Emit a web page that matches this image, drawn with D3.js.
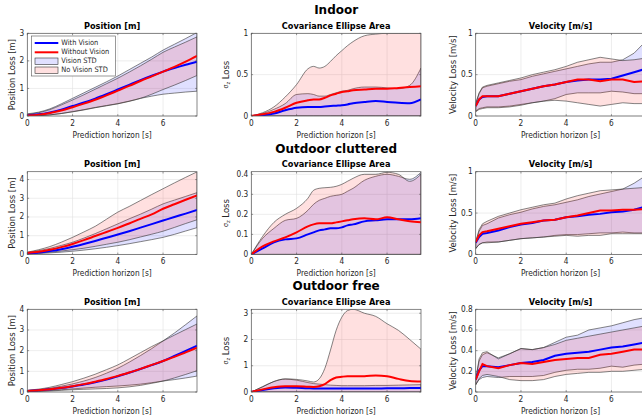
<!DOCTYPE html>
<html><head><meta charset="utf-8">
<script src="https://cdn.jsdelivr.net/npm/d3@7"></script>
<style>body{margin:0;background:#fff;} svg{display:block;font-family:"DejaVu Sans Condensed","DejaVu Sans",sans-serif;font-stretch:condensed;} .ttl{font-family:"DejaVu Sans",sans-serif;font-stretch:normal;font-weight:bold;}</style>
</head><body><svg id="c" width="642" height="420"></svg>
<script>
// ---------- DATA ----------
const rowTitles = ["Indoor", "Outdoor cluttered", "Outdoor free"];
const colTitles = ["Position [m]", "Covariance Ellipse Area", "Velocity [m/s]"];
const yLabels = ["Position Loss [m]", "SIGMA", "Velocity Loss [m/s]"];
const xLabel = "Prediction horizon [s]";
const xTicks = [0, 2, 4, 6];
const legendLabels = ["With Vision", "Without Vision", "Vision STD", "No Vision STD"];

const xPos = [0,0.5,1,1.5,2,2.5,3,3.5,4,4.5,5,5.5,6,6.5,7,7.5];
const xCov = [0,0.5,1,1.5,2,2.5,2.75,3,3.25,3.5,3.75,4,4.25,4.5,5,5.5,6,6.5,7,7.5];
const xVel = [0,0.15,0.3,0.5,1,1.5,2,2.5,3,3.5,4,4.5,5,5.5,6,6.5,7,7.5];

// Indoor - Position
const inPosBlue   = [0.03,0.06,0.13,0.23,0.36,0.49,0.63,0.79,0.96,1.13,1.30,1.46,1.61,1.74,1.86,1.97];
const inPosRed    = [0.02,0.05,0.11,0.20,0.32,0.45,0.59,0.75,0.92,1.09,1.27,1.44,1.61,1.78,1.97,2.18];
const inPosBlueHi = [0.08,0.14,0.26,0.44,0.64,0.84,1.04,1.24,1.45,1.68,1.91,2.14,2.39,2.60,2.81,3.03];
const inPosRedHi  = [0.06,0.12,0.23,0.40,0.58,0.77,0.97,1.17,1.37,1.59,1.82,2.06,2.31,2.50,2.68,2.87];
const inPosBlueLo = [0.00,0.01,0.04,0.09,0.16,0.23,0.31,0.38,0.45,0.54,0.64,0.72,0.79,0.83,0.87,0.90];
const inPosRedLo  = [0.00,0.01,0.04,0.09,0.15,0.22,0.30,0.37,0.44,0.53,0.64,0.79,0.96,1.12,1.29,1.47];

// Indoor - Covariance
const inCovBlue   = [0,0.01,0.03,0.07,0.10,0.11,0.11,0.11,0.115,0.12,0.125,0.13,0.14,0.155,0.17,0.18,0.17,0.16,0.155,0.20];
const inCovRed    = [0,0.02,0.05,0.10,0.16,0.19,0.20,0.20,0.22,0.25,0.27,0.29,0.30,0.31,0.32,0.33,0.33,0.34,0.35,0.36];
const inCovBlueHi = [0,0.03,0.08,0.15,0.26,0.27,0.26,0.24,0.24,0.26,0.28,0.30,0.31,0.33,0.35,0.35,0.34,0.33,0.37,0.58];
const inCovRedHi  = [0,0.04,0.11,0.23,0.38,0.57,0.60,0.58,0.60,0.66,0.73,0.79,0.85,0.90,0.97,0.99,1.00,1.00,1.00,1.00];
const inCovBlueLo = [0,0,0,0,0,0,0,0,0,0,0,0,0,0,0,0,0,0,0,0];
const inCovRedLo  = [0,0,0,0,0,0,0,0,0,0,0,0,0,0,0,0,0,0,0,0];

// Indoor - Velocity
const inVelBlue   = [0.12,0.20,0.23,0.24,0.24,0.27,0.30,0.33,0.36,0.38,0.41,0.43,0.44,0.44,0.45,0.49,0.53,0.57];
const inVelRed    = [0.12,0.20,0.24,0.24,0.24,0.27,0.30,0.33,0.36,0.38,0.41,0.44,0.44,0.42,0.44,0.44,0.41,0.42];
const inVelBlueHi = [0.15,0.27,0.34,0.36,0.39,0.42,0.44,0.48,0.51,0.54,0.57,0.60,0.63,0.65,0.65,0.68,0.76,0.90];
const inVelRedHi  = [0.15,0.28,0.35,0.37,0.40,0.43,0.46,0.50,0.53,0.56,0.60,0.65,0.68,0.71,0.69,0.67,0.68,0.70];
const inVelBlueLo = [0.06,0.09,0.10,0.11,0.11,0.12,0.14,0.16,0.18,0.21,0.26,0.28,0.28,0.28,0.30,0.29,0.27,0.27];
const inVelRedLo  = [0.05,0.08,0.09,0.10,0.10,0.11,0.13,0.16,0.18,0.19,0.18,0.16,0.14,0.12,0.14,0.16,0.15,0.15];

// Outdoor cluttered - Position
const ocPosBlue   = [0.05,0.10,0.18,0.28,0.41,0.56,0.72,0.89,1.06,1.24,1.43,1.62,1.81,2.00,2.18,2.37];
const ocPosRed    = [0.08,0.14,0.25,0.39,0.56,0.76,0.98,1.20,1.42,1.65,1.90,2.14,2.44,2.68,2.92,3.15];
const ocPosBlueHi = [0.10,0.20,0.32,0.48,0.65,0.87,1.11,1.37,1.63,1.90,2.15,2.42,2.70,2.90,3.10,3.30];
const ocPosRedHi  = [0.12,0.25,0.42,0.65,0.91,1.20,1.50,1.88,2.26,2.56,2.88,3.20,3.51,3.82,4.12,4.41];
const ocPosBlueLo = [0.02,0.05,0.08,0.12,0.17,0.23,0.30,0.38,0.47,0.57,0.68,0.79,0.91,1.07,1.25,1.43];
const ocPosRedLo  = [0.03,0.07,0.12,0.18,0.25,0.33,0.43,0.54,0.65,0.78,0.93,1.08,1.24,1.44,1.65,1.85];

// Outdoor cluttered - Covariance
const ocCovBlue   = [0,0.03,0.06,0.075,0.08,0.10,0.11,0.12,0.125,0.13,0.13,0.135,0.145,0.15,0.165,0.17,0.175,0.175,0.175,0.18];
const ocCovRed    = [0,0.04,0.065,0.085,0.11,0.14,0.15,0.155,0.155,0.155,0.16,0.165,0.17,0.175,0.18,0.175,0.185,0.175,0.165,0.16];
const ocCovBlueHi = [0,0.08,0.13,0.17,0.18,0.22,0.25,0.27,0.28,0.29,0.295,0.30,0.315,0.33,0.37,0.39,0.40,0.39,0.375,0.41];
const ocCovRedHi  = [0,0.09,0.16,0.20,0.23,0.28,0.32,0.33,0.333,0.335,0.34,0.35,0.365,0.38,0.40,0.40,0.41,0.40,0.365,0.40];
const ocCovBlueLo = [0,0,0,0,0,0,0,0,0,0,0,0,0,0,0,0,0,0,0,0];
const ocCovRedLo  = [0,0,0,0,0,0,0,0,0,0,0,0,0,0,0,0,0,0,0,0];

// Outdoor cluttered - Velocity
const ocVelBlue   = [0.14,0.21,0.25,0.26,0.29,0.33,0.36,0.38,0.41,0.42,0.45,0.46,0.48,0.49,0.51,0.52,0.54,0.58];
const ocVelRed    = [0.15,0.23,0.27,0.28,0.31,0.34,0.37,0.39,0.41,0.42,0.45,0.47,0.50,0.53,0.53,0.54,0.54,0.55];
const ocVelBlueHi = [0.15,0.28,0.35,0.37,0.44,0.48,0.51,0.55,0.58,0.60,0.63,0.66,0.70,0.73,0.76,0.79,0.86,0.95];
const ocVelRedHi  = [0.15,0.30,0.37,0.40,0.46,0.50,0.54,0.57,0.60,0.62,0.67,0.71,0.74,0.77,0.78,0.79,0.80,0.81];
const ocVelBlueLo = [0.07,0.12,0.14,0.15,0.15,0.17,0.19,0.20,0.21,0.23,0.24,0.24,0.25,0.26,0.26,0.27,0.26,0.26];
const ocVelRedLo  = [0.07,0.12,0.14,0.14,0.15,0.17,0.19,0.20,0.21,0.22,0.23,0.22,0.23,0.23,0.25,0.25,0.25,0.25];

// Outdoor free - Position
const ofPosBlue   = [0.05,0.08,0.13,0.19,0.27,0.36,0.47,0.60,0.76,0.93,1.11,1.30,1.50,1.74,1.99,2.24];
const ofPosRed    = [0.05,0.08,0.13,0.20,0.28,0.38,0.50,0.63,0.78,0.94,1.12,1.31,1.50,1.70,1.92,2.14];
const ofPosBlueHi = [0.07,0.11,0.18,0.28,0.39,0.53,0.70,0.91,1.15,1.44,1.76,2.10,2.47,2.85,3.26,3.68];
const ofPosRedHi  = [0.08,0.14,0.23,0.36,0.50,0.67,0.86,1.08,1.31,1.60,1.90,2.20,2.47,2.75,3.02,3.29];
const ofPosBlueLo = [0.02,0.04,0.07,0.11,0.15,0.19,0.23,0.26,0.29,0.33,0.38,0.45,0.53,0.60,0.68,0.77];
const ofPosRedLo  = [0.02,0.03,0.05,0.08,0.11,0.13,0.15,0.17,0.20,0.25,0.32,0.42,0.53,0.68,0.85,1.03];

// Outdoor free - Covariance
const ofCovBlue   = [0,0.08,0.14,0.17,0.16,0.14,0.135,0.13,0.13,0.13,0.13,0.13,0.13,0.13,0.13,0.13,0.14,0.14,0.15,0.15];
const ofCovRed    = [0,0.10,0.18,0.22,0.22,0.20,0.19,0.22,0.30,0.45,0.55,0.58,0.60,0.60,0.60,0.63,0.60,0.50,0.42,0.40];
const ofCovBlueHi = [0,0.20,0.40,0.49,0.45,0.36,0.32,0.30,0.28,0.26,0.25,0.24,0.24,0.24,0.24,0.25,0.25,0.26,0.27,0.28];
const ofCovRedHi  = [0,0.20,0.40,0.50,0.48,0.42,0.38,0.50,0.90,1.60,2.35,2.85,3.10,3.15,3.00,2.88,2.60,2.35,2.00,1.63];
const ofCovBlueLo = [0,0,0,0,0,0,0,0,0,0,0,0,0,0,0,0,0,0,0,0];
const ofCovRedLo  = [0,0,0,0,0,0,0,0,0,0,0,0,0,0,0,0,0,0,0,0];

// Outdoor free - Velocity
const ofVelBlue   = [0.12,0.21,0.25,0.25,0.24,0.26,0.28,0.29,0.31,0.35,0.37,0.38,0.39,0.41,0.43,0.44,0.46,0.48];
const ofVelRed    = [0.12,0.20,0.27,0.25,0.23,0.26,0.28,0.27,0.29,0.31,0.32,0.33,0.33,0.36,0.37,0.39,0.41,0.41];
const ofVelBlueHi = [0.12,0.30,0.36,0.38,0.33,0.37,0.42,0.41,0.43,0.48,0.53,0.55,0.60,0.62,0.64,0.67,0.70,0.72];
const ofVelRedHi  = [0.12,0.32,0.38,0.39,0.32,0.37,0.42,0.41,0.43,0.46,0.50,0.52,0.54,0.56,0.58,0.60,0.62,0.64];
const ofVelBlueLo = [0.07,0.12,0.14,0.15,0.14,0.15,0.15,0.15,0.16,0.19,0.21,0.22,0.22,0.23,0.25,0.24,0.26,0.27];
const ofVelRedLo  = [0.07,0.13,0.16,0.17,0.15,0.12,0.11,0.11,0.12,0.15,0.17,0.18,0.19,0.19,0.20,0.20,0.21,0.22];

// y-axis domains and ticks per [row][col]
const yMaxes = [[3, 1, 1], [4.42, 0.413, 1], [4, 3.15, 0.8]];
const yTickVals = [
  [[0,1,2,3], [0,0.5,1], [0,0.5,1]],
  [[0,1,2,3,4], [0,0.1,0.2,0.3,0.4], [0,0.5,1]],
  [[0,1,2,3,4], [0,1,2,3], [0,0.2,0.4,0.6,0.8]]
];

// ---------- LAYOUT ----------
const colLeft = [27.3, 251.3, 475.7];
const plotW = 169.7;
const rowTop = [33.3, 171.7, 309.3];
const plotH = 82.7;

const series = [
  [[xPos, inPosBlue, inPosRed, inPosBlueLo, inPosBlueHi, inPosRedLo, inPosRedHi, "smooth"],
   [xCov, inCovBlue, inCovRed, inCovBlueLo, inCovBlueHi, inCovRedLo, inCovRedHi, "smooth"],
   [xVel, inVelBlue, inVelRed, inVelBlueLo, inVelBlueHi, inVelRedLo, inVelRedHi, "linear"]],
  [[xPos, ocPosBlue, ocPosRed, ocPosBlueLo, ocPosBlueHi, ocPosRedLo, ocPosRedHi, "smooth"],
   [xCov, ocCovBlue, ocCovRed, ocCovBlueLo, ocCovBlueHi, ocCovRedLo, ocCovRedHi, "smooth"],
   [xVel, ocVelBlue, ocVelRed, ocVelBlueLo, ocVelBlueHi, ocVelRedLo, ocVelRedHi, "linear"]],
  [[xPos, ofPosBlue, ofPosRed, ofPosBlueLo, ofPosBlueHi, ofPosRedLo, ofPosRedHi, "smooth"],
   [xCov, ofCovBlue, ofCovRed, ofCovBlueLo, ofCovBlueHi, ofCovRedLo, ofCovRedHi, "smooth"],
   [xVel, ofVelBlue, ofVelRed, ofVelBlueLo, ofVelBlueHi, ofVelRedLo, ofVelRedHi, "linear"]]
];

const svg = d3.select("#c");
const defs = svg.append("defs");
const txtCol = "#262626";
const blueFill = "rgba(0,0,255,0.12)";
const redFill = "rgba(255,0,0,0.12)";

for (let r = 0; r < 3; r++) {
  svg.append("text").attr("class", "ttl").attr("x", colLeft[1] + plotW / 2).attr("y", rowTop[r] - 22.5)
    .attr("text-anchor", "middle").attr("dominant-baseline", "middle")
    .attr("font-size", 12).attr("fill", "#000").text(rowTitles[r]);

  for (let c = 0; c < 3; c++) {
    const [xs, mB, mR, bLo, bHi, rLo, rHi, kind] = series[r][c];
    const x0 = colLeft[c], y0 = rowTop[r];
    const x = d3.scaleLinear().domain([0, 7.5]).range([x0, x0 + plotW]);
    const y = d3.scaleLinear().domain([0, yMaxes[r][c]]).range([y0 + plotH, y0]);
    const curve = kind === "smooth" ? d3.curveMonotoneX : d3.curveLinear;
    const g = svg.append("g");
    const cid = `clip${r}${c}`;
    defs.append("clipPath").attr("id", cid).append("rect")
      .attr("x", x0).attr("y", y0).attr("width", plotW).attr("height", plotH);

    g.append("rect").attr("x", x0).attr("y", y0).attr("width", plotW).attr("height", plotH).attr("fill", "#fff");

    const grid = g.append("g").attr("stroke", "#e0e0e0").attr("stroke-width", 0.6);
    xTicks.forEach(t => grid.append("line").attr("x1", x(t)).attr("x2", x(t)).attr("y1", y0).attr("y2", y0 + plotH));
    yTickVals[r][c].forEach(t => grid.append("line").attr("x1", x0).attr("x2", x0 + plotW).attr("y1", y(t)).attr("y2", y(t)));

    const data = xs.map((v, i) => ({ x: v, mB: mB[i], mR: mR[i], bLo: bLo[i], bHi: bHi[i], rLo: rLo[i], rHi: rHi[i] }));
    const plot = g.append("g").attr("clip-path", `url(#${cid})`);

    const areaB = d3.area().curve(curve).x(d => x(d.x)).y0(d => y(d.bLo)).y1(d => y(d.bHi));
    const areaR = d3.area().curve(curve).x(d => x(d.x)).y0(d => y(d.rLo)).y1(d => y(d.rHi));
    plot.append("path").datum(data).attr("d", areaB).attr("fill", blueFill)
      .attr("stroke", "#333").attr("stroke-width", 0.6);
    plot.append("path").datum(data).attr("d", areaR).attr("fill", redFill)
      .attr("stroke", "#333").attr("stroke-width", 0.6);

    const lineB = d3.line().curve(curve).x(d => x(d.x)).y(d => y(d.mB));
    const lineR = d3.line().curve(curve).x(d => x(d.x)).y(d => y(d.mR));
    plot.append("path").datum(data).attr("d", lineB).attr("fill", "none").attr("stroke", "#0000ff").attr("stroke-width", 2);
    plot.append("path").datum(data).attr("d", lineR).attr("fill", "none").attr("stroke", "#ff0000").attr("stroke-width", 2);

    g.append("rect").attr("x", x0).attr("y", y0).attr("width", plotW).attr("height", plotH)
      .attr("fill", "none").attr("stroke", "#555").attr("stroke-width", 0.7);

    const tk = g.append("g").attr("stroke", "#555").attr("stroke-width", 0.6);
    xTicks.forEach(t => {
      tk.append("line").attr("x1", x(t)).attr("x2", x(t)).attr("y1", y0 + plotH).attr("y2", y0 + plotH - 1.8);
      tk.append("line").attr("x1", x(t)).attr("x2", x(t)).attr("y1", y0).attr("y2", y0 + 1.8);
    });
    yTickVals[r][c].forEach(t => {
      tk.append("line").attr("x1", x0).attr("x2", x0 + 1.8).attr("y1", y(t)).attr("y2", y(t));
      tk.append("line").attr("x1", x0 + plotW).attr("x2", x0 + plotW - 1.8).attr("y1", y(t)).attr("y2", y(t));
    });

    const fmt = v => String(v);
    xTicks.forEach(t => g.append("text").attr("x", x(t)).attr("y", y0 + plotH + 7)
      .attr("text-anchor", "middle").attr("dominant-baseline", "middle").attr("font-size", 8.2)
      .attr("fill", txtCol).text(fmt(t)));
    yTickVals[r][c].forEach(t => g.append("text").attr("x", x0 - 3).attr("y", y(t))
      .attr("text-anchor", "end").attr("dominant-baseline", "middle").attr("font-size", 8.2)
      .attr("fill", txtCol).text(fmt(t)));

    g.append("text").attr("x", x0 + plotW / 2).attr("y", y0 + plotH + 19)
      .attr("text-anchor", "middle").attr("dominant-baseline", "middle").attr("font-size", 8.3)
      .attr("fill", txtCol).text(xLabel);

    const ylx = [12.3, 226.3, 453][c];
    const yl = g.append("text").attr("transform", `translate(${ylx},${y0 + plotH / 2}) rotate(-90)`)
      .attr("text-anchor", "middle").attr("dominant-baseline", "middle").attr("font-size", 9.4).attr("fill", txtCol);
    if (yLabels[c] === "SIGMA") {
      yl.append("tspan").attr("font-size", 7).text("σ");
      yl.append("tspan").attr("font-size", 5.5).attr("dy", 2).text("z");
      yl.append("tspan").attr("dy", -2).text(" Loss");
    } else {
      yl.text(yLabels[c]);
    }

    g.append("text").attr("class", "ttl").attr("x", x0 + plotW / 2).attr("y", y0 - 7)
      .attr("text-anchor", "middle").attr("dominant-baseline", "middle").attr("font-size", 8.2)
      .attr("fill", "#000").text(colTitles[c]);

    if (r === 0 && c === 0) {
      const lg = g.append("g");
      lg.append("rect").attr("x", 31.3).attr("y", 36).attr("width", 84).attr("height", 40)
        .attr("fill", "#fff").attr("stroke", "#555").attr("stroke-width", 0.6);
      const rowsY = [43, 52.3, 61.3, 70.3];
      lg.append("line").attr("x1", 34.7).attr("x2", 58.3).attr("y1", rowsY[0]).attr("y2", rowsY[0]).attr("stroke", "#0000ff").attr("stroke-width", 2);
      lg.append("line").attr("x1", 34.7).attr("x2", 58.3).attr("y1", rowsY[1]).attr("y2", rowsY[1]).attr("stroke", "#ff0000").attr("stroke-width", 2);
      lg.append("rect").attr("x", 35).attr("y", rowsY[2] - 3.3).attr("width", 23).attr("height", 6.6).attr("fill", blueFill).attr("stroke", "#333").attr("stroke-width", 0.6);
      lg.append("rect").attr("x", 35).attr("y", rowsY[3] - 3.3).attr("width", 23).attr("height", 6.6).attr("fill", redFill).attr("stroke", "#333").attr("stroke-width", 0.6);
      legendLabels.forEach((t, i) => lg.append("text").attr("x", 61.3).attr("y", rowsY[i])
        .attr("dominant-baseline", "middle").attr("font-size", 7.4).attr("fill", txtCol).text(t));
    }
  }
}
</script></body></html>
